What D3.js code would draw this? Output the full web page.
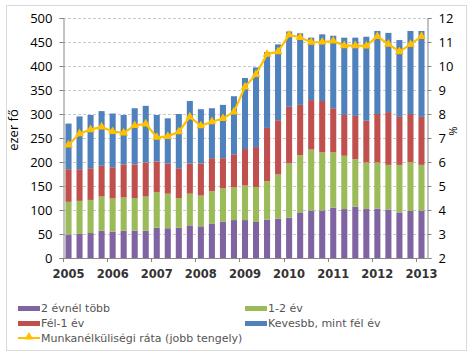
<!DOCTYPE html>
<html lang="hu">
<head>
  <meta charset="UTF-8">
  <title>Munkanélküliek</title>
  <style>
    body { margin: 0; background: #fff; }
  </style>
</head>
<body>
<script src="https://d3js.org/d3.v7.min.js"></script>
<div id="chart"></div>
<script>
// DATA ==========================================================================
const years = ["2005","2006","2007","2008","2009","2010","2011","2012","2013"];
// quarterly, 2005Q1 .. 2013Q1 (ezer fő)
const tobb2ev  = [49,50,52,57,55,57,57,57,63,62,63,68,66,72,76,79,79,75,80,82,84,95,99,99,105,102,107,102,103,101,95,98,99];
const ev12     = [68,69,69,71,69,69,68,71,74,72,62,66,64,67,69,68,72,73,80,92,113,119,127,121,115,111,99,97,96,93,99,102,95];
const fel1ev   = [68,66,66,64,65,69,70,71,64,63,62,63,67,69,63,69,76,83,111,113,118,105,103,107,92,85,90,87,101,110,100,100,100];
const kevesebb = [95,110,111,114,112,103,117,118,97,94,113,130,113,104,111,121,148,166,158,158,157,149,130,139,151,161,163,175,173,165,160,173,179];
const rate     = [6.71,7.18,7.35,7.46,7.27,7.21,7.52,7.59,7.03,7.07,7.26,7.88,7.51,7.68,7.81,8.09,9.13,9.65,10.49,10.6,11.3,11.19,10.99,11.0,11.04,10.85,10.85,10.84,11.23,10.91,10.6,10.9,11.23];

const seriesNames = ["2 évnél több","1-2 év","Fél-1 év","Kevesbb, mint fél év"];
const colors = ["#8064A2","#9BBB59","#C0504D","#4F81BD"];
const lineColor = "#FFC000";

// PLOT AREA =====================================================================
const W = 472, H = 354;
const plot = {left: 63, right: 427, top: 18, bottom: 258};

const svg = d3.select("#chart").append("svg")
    .attr("width", W).attr("height", H)
    .style("font-family", "'Open Sans', sans-serif");

svg.append("rect")
    .attr("x", 6.5).attr("y", 5.5).attr("width", 460).attr("height", 345)
    .attr("fill", "#fff").attr("stroke", "#d9d9d9");

const table = d3.range(rate.length).map(i => ({
  i: i, a: tobb2ev[i], b: ev12[i], c: fel1ev[i], d: kevesebb[i], r: rate[i]
}));

// SCALES ========================================================================
const x = d3.scaleBand()
    .domain(table.map(d => d.i))
    .range([plot.left, plot.right])
    .paddingInner(0.45).paddingOuter(0.225);
const y = d3.scaleLinear().domain([0, 500]).range([plot.bottom, plot.top]);
const y2 = d3.scaleLinear().domain([2, 12]).range([plot.bottom, plot.top]);

// gridlines
svg.append("g")
  .selectAll("line")
  .data(y.ticks(10).filter(v => v > 0))
  .join("line")
    .attr("x1", plot.left).attr("x2", plot.right)
    .attr("y1", d => Math.round(y(d)) + 0.5).attr("y2", d => Math.round(y(d)) + 0.5)
    .attr("stroke", "#c8c8c8").attr("stroke-dasharray", "3,2");

// BARS ==========================================================================
const stack = d3.stack().keys(["a","b","c","d"]);
const layers = stack(table);

svg.append("g")
  .selectAll("g")
  .data(layers)
  .join("g")
    .attr("fill", (d, k) => colors[k])
  .selectAll("rect")
  .data(d => d)
  .join("rect")
    .attr("x", d => x(d.data.i))
    .attr("width", x.bandwidth())
    .attr("y", d => y(d[1]))
    .attr("height", d => y(d[0]) - y(d[1]));

// AXES ==========================================================================
const axisColor = "#868686";

const yAxis = svg.append("g")
    .attr("transform", `translate(${plot.left + 0.5},0)`)
    .call(d3.axisLeft(y).ticks(10).tickSize(4).tickPadding(7));
const y2Axis = svg.append("g")
    .attr("transform", `translate(${plot.right + 0.5},0)`)
    .call(d3.axisRight(y2).ticks(10).tickSize(4).tickPadding(7));

[yAxis, y2Axis].forEach(g => {
  g.select(".domain").attr("stroke", axisColor);
  g.selectAll(".tick line").attr("stroke", axisColor);
  g.selectAll("text").attr("font-size", 13).attr("fill", "#000")
    .attr("font-family", "'Open Sans', sans-serif");
});

// bottom axis: line, ticks at year boundaries, year labels under Q1 bars
const xg = svg.append("g");
xg.append("line")
    .attr("x1", plot.left).attr("x2", plot.right)
    .attr("y1", plot.bottom + 0.5).attr("y2", plot.bottom + 0.5)
    .attr("stroke", axisColor);
xg.selectAll(".yt")
  .data(years)
  .join("line")
    .attr("x1", (d, k) => Math.round(plot.left + x.step() * 4 * k) + 0.5)
    .attr("x2", (d, k) => Math.round(plot.left + x.step() * 4 * k) + 0.5)
    .attr("y1", plot.bottom).attr("y2", plot.bottom + 4)
    .attr("stroke", axisColor);
xg.selectAll("text")
  .data(years)
  .join("text")
    .attr("x", (d, k) => x(k * 4) + x.bandwidth() / 2)
    .attr("y", plot.bottom + 20)
    .attr("text-anchor", "middle")
    .attr("font-family", "'DejaVu Sans', sans-serif")
    .attr("font-size", 11.5)
    .attr("font-weight", "bold")
    .attr("fill", "#333")
    .text(d => d);

// axis titles
svg.append("text")
    .attr("transform", "translate(18,130) rotate(-90)")
    .attr("text-anchor", "middle")
    .attr("font-size", 13)
    .text("ezer fő");
svg.append("text")
    .attr("transform", "translate(449,131) rotate(90)")
    .attr("text-anchor", "middle")
    .attr("font-size", 11)
    .text("%");

// LINE ==========================================================================
const line = d3.line()
    .x(d => x(d.i) + x.bandwidth() / 2)
    .y(d => y2(d.r));

svg.append("path")
    .datum(table)
    .attr("fill", "none")
    .attr("stroke", lineColor)
    .attr("stroke-width", 2.2)
    .attr("d", line);

const tri = d3.symbol().type(d3.symbolTriangle).size(34);
svg.append("g")
  .selectAll("path")
  .data(table)
  .join("path")
    .attr("transform", d => `translate(${x(d.i) + x.bandwidth() / 2},${y2(d.r)})`)
    .attr("d", tri)
    .attr("fill", lineColor);

// LEGEND ========================================================================
const legend = svg.append("g")
    .attr("font-family", "'DejaVu Sans', sans-serif")
    .attr("font-size", 11)
    .attr("fill", "#555");

const legendPos = [[18, 308], [245, 308], [18, 323], [245, 323]];
const order = [0, 1, 2, 3];
order.forEach((k, n) => {
  const [lx, ly] = legendPos[n];
  legend.append("rect")
      .attr("x", lx).attr("y", ly - 2).attr("width", 22).attr("height", 5)
      .attr("fill", colors[k]);
  legend.append("text")
      .attr("x", lx + 23).attr("y", ly + 4)
      .text(seriesNames[k]);
});
legend.append("line")
    .attr("x1", 18).attr("x2", 40).attr("y1", 338).attr("y2", 338)
    .attr("stroke", lineColor).attr("stroke-width", 2);
legend.append("path")
    .attr("transform", "translate(29,337)")
    .attr("d", tri)
    .attr("fill", lineColor);
legend.append("text")
    .attr("x", 41).attr("y", 342)
    .text("Munkanélküliségi ráta (jobb tengely)");
</script>
</body>
</html>
